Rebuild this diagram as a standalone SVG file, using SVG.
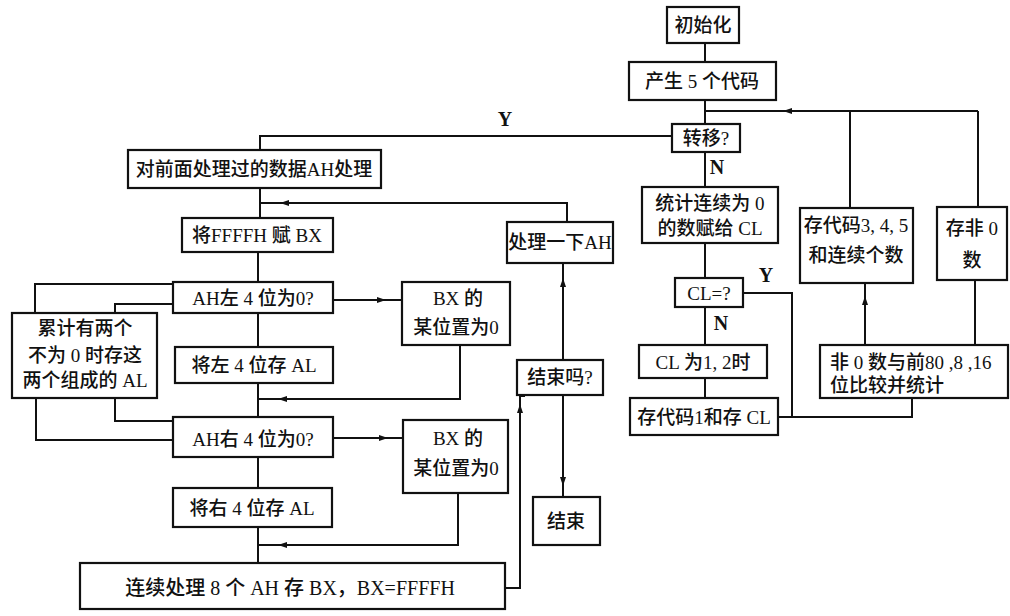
<svg xmlns="http://www.w3.org/2000/svg" width="1010" height="616" viewBox="0 0 1010 616">
<style>
.box{fill:#fff;stroke:#111;stroke-width:2.2}
.ln{fill:none;stroke:#111;stroke-width:2}
.ah{fill:#111}
text{font-family:"Liberation Serif","Noto Sans CJK SC",serif;font-size:19px;fill:#111;font-weight:500}
.c{text-anchor:middle}
.lbl{font-size:20px;font-weight:bold}
</style>
<rect width="1010" height="616" fill="#fff"/>
<g id="connectors">
<path class="ln" d="M705 43V62M705 100V124M705 111H978M850 111V208M978 111V207"/>
<path class="ln" d="M672 136H260V150M260 188V218M260 203H567V222"/>
<path class="ln" d="M258 252V282M173 284H35V313M173 304H115V313M333 300H402"/>
<path class="ln" d="M258 313V347M460 345V399H258M258 383V417"/>
<path class="ln" d="M36 398V440H173M115 398V421H173M333 438H403"/>
<path class="ln" d="M258 457V488M458 493V545H258M258 527V563"/>
<path class="ln" d="M505 588H520V396H525M563 263V360M563 395V497"/>
<path class="ln" d="M705 152V187M705 243V278M705 307V345M705 378V398M743 293H792V417M778 417H912V398M865 345V283M975 345V280"/>
<polygon class="ah" points="783,111 792,108 792,114"/>
<polygon class="ah" points="280,203 289,200 289,206"/>
<polygon class="ah" points="386,300 377,297 377,303"/>
<polygon class="ah" points="278,399 287,396 287,402"/>
<polygon class="ah" points="388,438 379,435 379,441"/>
<polygon class="ah" points="278,545 287,542 287,548"/>
<polygon class="ah" points="520,404 517,413 523,413"/>
<polygon class="ah" points="563,278 560,287 566,287"/>
<polygon class="ah" points="563,486 560,477 566,477"/>
<polygon class="ah" points="865,296 862,305 868,305"/>
<text class="lbl" x="505" y="126" text-anchor="middle">Y</text>
<text class="lbl" x="717" y="174" text-anchor="middle">N</text>
<text class="lbl" x="766" y="282" text-anchor="middle">Y</text>
<text class="lbl" x="721" y="330" text-anchor="middle">N</text>
</g>
<g id="n-init"><rect class="box" x="667" y="7" width="72" height="36"/><text class="c" x="703" y="32">初始化</text></g>
<g id="n-gen"><rect class="box" x="629" y="62" width="147" height="38"/><text class="c" x="702" y="88">产生 5 个代码</text></g>
<g id="n-jump"><rect class="box" x="672" y="124" width="68" height="28"/><text class="c" x="706" y="145">转移?</text></g>
<g id="n-proc"><rect class="box" x="128" y="150" width="253" height="38"/><text class="c" x="254" y="176">对前面处理过的数据AH处理</text></g>
<g id="n-ffff"><rect class="box" x="182" y="218" width="151" height="34"/><text class="c" x="257" y="242">将FFFFH 赋 BX</text></g>
<g id="n-ahl"><rect class="box" x="173" y="282" width="160" height="31"/><text class="c" x="253" y="305">AH左 4 位为0?</text></g>
<g id="n-acc"><rect class="box" x="12" y="313" width="145" height="85"/><text class="c" x="85" y="335">累计有两个</text><text class="c" x="85" y="362">不为 0 时存这</text><text class="c" x="85" y="387">两个组成的 AL</text></g>
<g id="n-saveL"><rect class="box" x="175" y="347" width="158" height="36"/><text class="c" x="254" y="372">将左 4 位存   AL</text></g>
<g id="n-bx1"><rect class="box" x="402" y="282" width="108" height="63"/><text class="c" x="458" y="305">BX 的</text><text class="c" x="456" y="334">某位置为0</text></g>
<g id="n-ahr"><rect class="box" x="173" y="417" width="160" height="40"/><text class="c" x="253" y="446">AH右 4 位为0?</text></g>
<g id="n-bx2"><rect class="box" x="403" y="420" width="105" height="73"/><text class="c" x="458" y="445">BX 的</text><text class="c" x="456" y="475">某位置为0</text></g>
<g id="n-saveR"><rect class="box" x="173" y="488" width="159" height="39"/><text class="c" x="252" y="515">将右 4 位存 AL</text></g>
<g id="n-cont"><rect class="box" x="80" y="563" width="425" height="46"/><text class="c" x="290" y="595" style="font-size:20px">连续处理 8 个 AH 存 BX，BX=FFFFH</text></g>
<g id="n-proah"><rect class="box" x="507" y="222" width="106" height="41"/><text class="c" x="560" y="249">处理一下AH</text></g>
<g id="n-endq"><rect class="box" x="517" y="360" width="86" height="35"/><text class="c" x="560" y="384">结束吗?</text></g>
<g id="n-end"><rect class="box" x="533" y="497" width="67" height="48"/><text class="c" x="566" y="528">结束</text></g>
<g id="n-count"><rect class="box" x="642" y="187" width="136" height="56"/><text class="c" x="710" y="210">统计连续为 0</text><text class="c" x="710" y="235">的数赋给 CL</text></g>
<g id="n-cl"><rect class="box" x="675" y="278" width="68" height="29"/><text class="c" x="709" y="300">CL=?</text></g>
<g id="n-cl12"><rect class="box" x="639" y="345" width="128" height="33"/><text class="c" x="703" y="369">CL 为1, 2时</text></g>
<g id="n-code1"><rect class="box" x="630" y="398" width="148" height="37"/><text class="c" x="704" y="424">存代码1和存 CL</text></g>
<g id="n-code345"><rect class="box" x="800" y="208" width="113" height="75"/><text class="c" x="856" y="232">存代码3, 4, 5</text><text class="c" x="856" y="262">和连续个数</text></g>
<g id="n-nonzero"><rect class="box" x="937" y="207" width="70" height="73"/><text class="c" x="972" y="235">存非 0</text><text class="c" x="972" y="267">数</text></g>
<g id="n-cmp"><rect class="box" x="820" y="345" width="188" height="53"/><text x="830" y="369">非 0 数与前80 ,8 ,16</text><text x="830" y="392">位比较并统计</text></g>
</svg>
